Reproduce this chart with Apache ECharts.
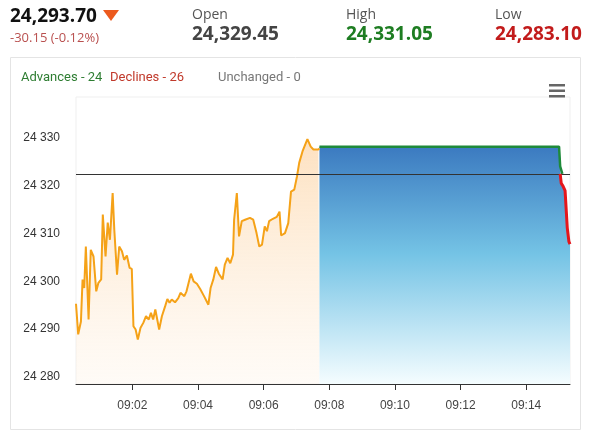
<!DOCTYPE html>
<html>
<head>
<meta charset="utf-8">
<script src="https://cdn.jsdelivr.net/npm/echarts@6/dist/echarts.min.js"></script>
<style>
  html, body { margin: 0; padding: 0; background: #fff; }
  #chart { width: 593px; height: 433px; }
</style>
</head>
<body>
<div id="chart"></div>
<script>
// seconds after 09:00:00
const orangeSec = [17, 21, 26, 29, 32, 35, 40, 44, 49, 54, 58, 63, 66, 71, 75, 79, 84, 87, 92, 96,
  101, 105, 110, 115, 119, 122, 126, 130, 135, 140, 145, 150, 154, 158, 162, 169, 174, 180, 184, 188,
  192, 198, 204, 208, 215, 219, 227, 232, 238, 244, 251, 259, 263, 268, 273, 278, 285, 289, 294, 299,
  304, 306, 311, 315, 320, 326, 335, 341, 347, 352, 357, 362, 366, 370, 377, 384, 389, 392, 399, 405,
  410, 416, 421, 425, 431, 440, 446, 451, 460, 462];
const orangeVal = [24295.3, 24288.9, 24291.6, 24300.4, 24298.6, 24307.3, 24292.0, 24306.6, 24305.2, 24297.9,
  24299.7, 24300.4, 24314.0, 24305.2, 24312.3, 24308.7, 24318.5, 24310.8, 24301.4, 24307.3,
  24306.3, 24304.5, 24305.4, 24302.8, 24302.6, 24290.6, 24289.9, 24287.8, 24290.3, 24291.3,
  24292.7, 24292.0, 24293.4, 24292.0, 24294.1, 24289.9, 24292.7, 24294.8, 24296.3, 24295.5,
  24296.2, 24295.6, 24296.5, 24297.6, 24296.9, 24297.9, 24301.6, 24300.0, 24299.5, 24298.4,
  24296.9, 24295.1, 24298.6, 24300.4, 24303.0, 24301.6, 24300.4, 24303.5, 24304.9, 24303.8,
  24305.6, 24312.9, 24318.5, 24309.4, 24312.6, 24312.9, 24313.3, 24312.9, 24310.1, 24307.3,
  24307.7, 24311.5, 24310.5, 24312.6, 24313.1, 24313.5, 24314.6, 24309.6, 24310.1, 24312.2,
  24318.8, 24319.2, 24322.0, 24324.8, 24327.2, 24329.8, 24328.2, 24327.6, 24327.6, 24327.8];

const greenSec = [462, 900, 902, 905, 906];
const greenVal = [24328.2, 24328.2, 24324.1, 24324.4, 24322.5];

const redSec = [902, 904, 907, 911, 915, 918, 920];
const redVal = [24322.5, 24320.5, 24320.0, 24319.0, 24311.2, 24308.3, 24307.8];

const refLevel = 24322.5;

const yTicks = [24280, 24290, 24300, 24310, 24320, 24330];
const xTicks = [120, 240, 360, 480, 600, 720, 840];

const quote = { last: '24,293.70', change: '-30.15 (-0.12%)', open: '24,329.45', high: '24,331.05', low: '24,283.10' };
const breadth = ['Advances - 24', 'Declines - 26', 'Unchanged - 0'];

const zip = (xs, ys) => xs.map((x, i) => [x, ys[i]]);
const orangeData = zip(orangeSec, orangeVal);
const greenData = zip(greenSec, greenVal);
const redData = zip(redSec, redVal);
const blueData = greenData.slice(0, 3).concat(redData.slice(1));

const chart = echarts.init(document.getElementById('chart'));

const txt = (x, y, text, size, color, weight, family) => ({
  type: 'text', x: x, y: y, silent: true,
  style: {
    text: text, fill: color, fontSize: size, fontWeight: weight || 'normal',
    fontFamily: family || '"Open Sans", sans-serif', verticalAlign: 'middle'
  }
});

const option = {
  animation: false,
  grid: { left: 76, right: 23, top: 97, bottom: 49, show: true, borderColor: '#efefef', borderWidth: 1, backgroundColor: 'transparent' },
  xAxis: {
    type: 'value', min: 17, max: 920,
    axisLine: { show: true, lineStyle: { color: '#333', width: 1 } },
    axisTick: { show: true, customValues: xTicks, length: 6, lineStyle: { color: '#333' } },
    axisLabel: {
      customValues: xTicks, color: '#444', fontSize: 12, margin: 16, fontFamily: 'Liberation Sans, Arial, sans-serif',
      formatter: v => '09:' + String(Math.round(v / 60)).padStart(2, '0')
    },
    splitLine: { show: false }
  },
  yAxis: {
    type: 'value', min: 24278.5, max: 24338.6,
    axisLine: { show: false },
    axisTick: { show: false },
    axisLabel: {
      customValues: yTicks, color: '#333', fontSize: 12, margin: 16, fontFamily: 'Liberation Sans, Arial, sans-serif',
      formatter: v => String(v).replace(/(\d{2})(\d{3})$/, '$1 $2')
    },
    splitLine: { show: false }
  },
  series: [
    {
      type: 'line', data: orangeData, symbol: 'none', z: 2,
      lineStyle: { color: '#f5a218', width: 2 },
      areaStyle: {
        color: new echarts.graphic.LinearGradient(0, 0, 0, 1, [
          { offset: 0, color: 'rgba(252, 205, 150, 0.85)' },
          { offset: 1, color: 'rgba(254, 242, 228, 0.45)' }
        ])
      }
    },
    {
      type: 'line', data: blueData, symbol: 'none', z: 2,
      lineStyle: { width: 0, opacity: 0 },
      areaStyle: {
        opacity: 1,
        color: new echarts.graphic.LinearGradient(0, 0, 0, 1, [
          { offset: 0, color: '#3b7ac0' },
          { offset: 0.45, color: '#74c3e5' },
          { offset: 1, color: '#f5fdff' }
        ])
      }
    },
    {
      type: 'line', data: greenData, symbol: 'none', z: 4,
      lineStyle: { color: '#1e8a3a', width: 2.5 },
      markLine: {
        silent: true, symbol: 'none', label: { show: false },
        lineStyle: { color: '#333', width: 1, type: 'solid' },
        data: [{ yAxis: refLevel }]
      }
    },
    {
      type: 'line', data: redData, symbol: 'none', z: 5,
      lineStyle: { color: '#e5161b', width: 3 }
    }
  ],
  graphic: [
    { type: 'rect', shape: { x: 10.5, y: 57.5, width: 570, height: 372 }, style: { fill: 'none', stroke: '#e4e4e4', lineWidth: 1 }, silent: true, z: -1 },
    txt(10, 17, quote.last, 19, '#111', 'bold'),
    { type: 'polygon', shape: { points: [[103, 10], [119, 10], [111, 21]] }, style: { fill: '#ec5a1e' }, silent: true },
    txt(10, 38, quote.change, 13, '#b9504f'),
    txt(192, 15, 'Open', 14, '#555'),
    txt(192, 35, quote.open, 19, '#444', 'bold'),
    txt(346, 15, 'High', 14, '#555'),
    txt(346, 35, quote.high, 19, '#1e7d22', 'bold'),
    txt(495, 15, 'Low', 14, '#555'),
    txt(495, 35, quote.low, 19, '#c21b1b', 'bold'),
    txt(21, 78, breadth[0], 13, '#2e7d32', 'normal', 'Roboto, sans-serif'),
    txt(110, 78, breadth[1], 13, '#c0392b', 'normal', 'Roboto, sans-serif'),
    txt(218, 78, breadth[2], 13, '#777', 'normal', 'Roboto, sans-serif'),
    { type: 'rect', shape: { x: 549, y: 84, width: 16, height: 2.5 }, style: { fill: '#666' }, silent: true },
    { type: 'rect', shape: { x: 549, y: 89.5, width: 16, height: 2.5 }, style: { fill: '#666' }, silent: true },
    { type: 'rect', shape: { x: 549, y: 95, width: 16, height: 2.5 }, style: { fill: '#666' }, silent: true }
  ]
};

chart.setOption(option);
</script>
</body>
</html>
